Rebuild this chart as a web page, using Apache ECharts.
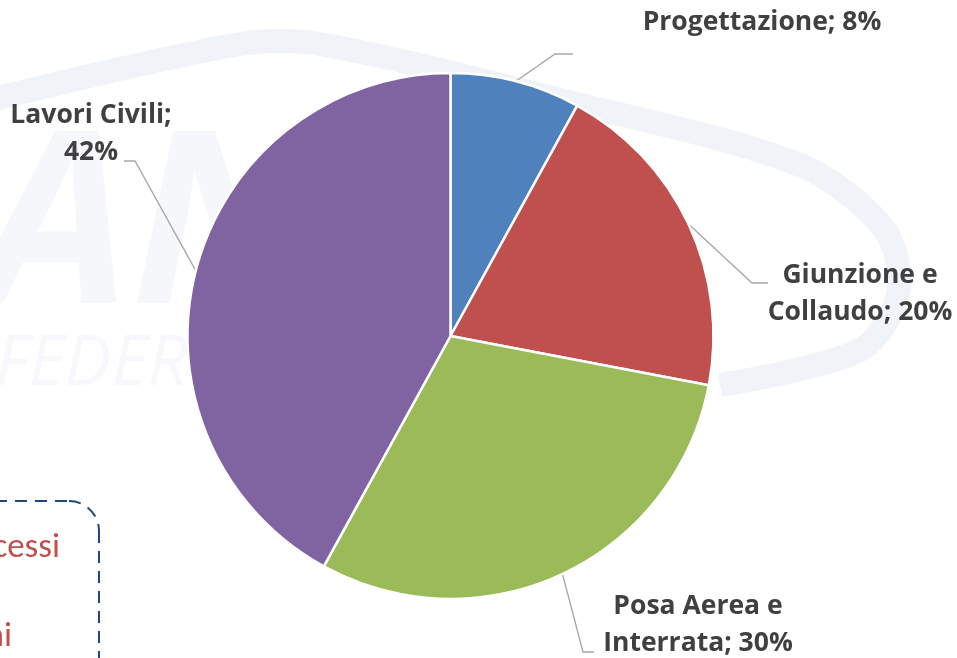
<!DOCTYPE html>
<html>
<head>
<meta charset="utf-8">
<script src="https://cdn.jsdelivr.net/npm/echarts@6/dist/echarts.min.js"></script>
<style>
html,body{margin:0;padding:0;background:#fff;}
#main{width:957px;height:658px;}
</style>
</head>
<body>
<div id="main"></div>
<script>
// ---- data ----
var categories = ['Progettazione', 'Giunzione e Collaudo', 'Posa Aerea e Interrata', 'Lavori Civili'];
var values = [8, 20, 30, 42];
var labelTexts = ['Progettazione; 8%', 'Giunzione e\nCollaudo; 20%', 'Posa Aerea e\nInterrata; 30%', 'Lavori Civili;\n42%'];
var colors = ['#4F81BD', '#C0504D', '#9BBB59', '#8064A2'];

// ---- layout (label anchors & leader-line bends) ----
var CX = 450.5, CY = 336, R = 263;
var labelPos = [[762, 22], [860, 294], [698, 625], [91, 134]];
var lineBend = [[[555, 54], [573, 54]], [[752, 283], [768, 283]], [[583, 652], [594, 652]], [[135, 161], [124, 161]]];

var total = values.reduce(function (a, b) { return a + b; }, 0);
function edgePoint(i) {
  var before = 0;
  for (var k = 0; k < i; k++) before += values[k];
  var mid = (before + values[i] / 2) / total * 2 * Math.PI;
  return [CX + R * Math.sin(mid), CY - R * Math.cos(mid)];
}

var chart = echarts.init(document.getElementById('main'));
var font = '"Open Sans", "Noto Sans", sans-serif';
var dash = { fill: null, stroke: '#1F497D', lineWidth: 2, lineDash: [12, 8] };

chart.setOption({
  backgroundColor: '#ffffff',
  animation: false,
  graphic: [
    { type: 'polyline', z: -10, silent: true,
      shape: { points: [[-10, 100], [240, 44], [320, 44], [560, 100], [800, 165], [885, 230], [898, 295], [860, 350], [720, 385]], smooth: 0.3 },
      style: { fill: null, stroke: '#F0F3F8', lineWidth: 24 } },
    { type: 'text', z: -10, silent: true, left: -20, top: 115,
      style: { text: 'AN', font: 'italic bold 240px ' + font, fill: '#F5F7FB' } },
    { type: 'text', z: -10, silent: true, left: -5, top: 330,
      style: { text: 'FEDER', font: 'italic 70px ' + font, fill: '#F6F8FB' } },
    { type: 'line', silent: true, shape: { x1: -5, y1: 501, x2: 69, y2: 501 }, style: dash },
    { type: 'arc', silent: true, shape: { cx: 69, cy: 531, r: 30, startAngle: -Math.PI / 2, endAngle: 0 }, style: dash },
    { type: 'line', silent: true, shape: { x1: 99, y1: 531, x2: 99, y2: 665 }, style: dash },
    { type: 'text', silent: true,
      style: { x: 60, y: 531, text: 'cessi', align: 'right', verticalAlign: 'top', font: '35px Carlito, Lato, sans-serif', fill: '#C0504D' } },
    { type: 'text', silent: true,
      style: { x: 12, y: 620, text: 'ai', align: 'right', verticalAlign: 'top', font: '35px Carlito, Lato, sans-serif', fill: '#C0504D' } }
  ],
  series: [{
    type: 'pie',
    center: [CX, CY],
    radius: R,
    startAngle: 90,
    clockwise: true,
    data: categories.map(function (c, i) {
      return { name: c, value: values[i], itemStyle: { color: colors[i] } };
    }),
    itemStyle: { borderColor: '#ffffff', borderWidth: 2.5 },
    label: {
      show: true,
      formatter: function (p) { return labelTexts[p.dataIndex]; },
      color: '#404040',
      fontFamily: font,
      fontWeight: 'bold',
      fontSize: 26.5,
      lineHeight: 37,
      align: 'center',
      overflow: 'none'
    },
    labelLine: { show: true, lineStyle: { color: '#A6A6A6', width: 1.3 } },
    labelLayout: function (p) {
      var i = p.dataIndex;
      var e = edgePoint(i);
      return {
        x: labelPos[i][0],
        y: labelPos[i][1],
        align: 'center',
        verticalAlign: 'middle',
        labelLinePoints: [e, lineBend[i][0], lineBend[i][1]]
      };
    },
    emphasis: { disabled: true }
  }]
});
</script>
</body>
</html>
